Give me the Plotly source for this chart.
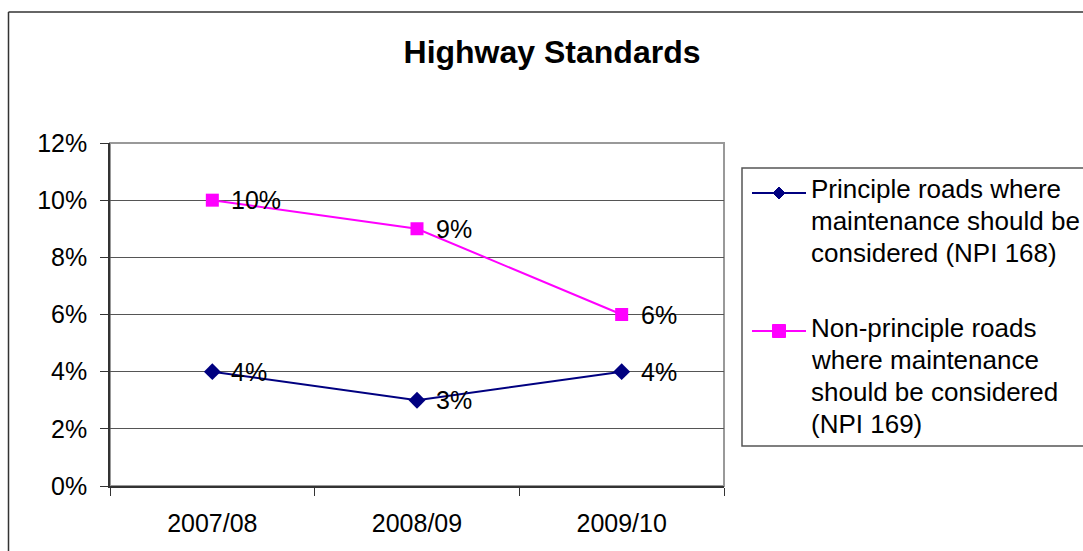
import plotly.graph_objects as go

categories = ["2007/08", "2008/09", "2009/10"]
principle = [0.04, 0.03, 0.04]
non_principle = [0.10, 0.09, 0.06]
series_names = [
    "Principle roads where<br>maintenance should be<br>considered (NPI 168)",
    "Non-principle roads<br>where maintenance<br>should be considered<br>(NPI 169)",
]
series_colors = ["#000080", "#FF00FF"]
y_ticks = [0, 0.02, 0.04, 0.06, 0.08, 0.10, 0.12]

FONT = "Arial, Liberation Sans, sans-serif"
W, H = 1083, 551
# plot area in page pixels
L, R, T, B = 110, 724, 143, 486

def px_x(x):
    return (x - L) / (R - L)

def px_y(y):
    return (B - y) / (B - T)

fig = go.Figure()
fig.add_trace(go.Scatter(
    x=categories, y=principle, name=series_names[0],
    mode="lines+markers",
    line=dict(color=series_colors[0], width=2),
    marker=dict(symbol="diamond", size=13, color=series_colors[0]),
    cliponaxis=False, showlegend=False,
))
fig.add_trace(go.Scatter(
    x=categories, y=non_principle, name=series_names[1],
    mode="lines+markers",
    line=dict(color=series_colors[1], width=2),
    marker=dict(symbol="square", size=13, color=series_colors[1]),
    cliponaxis=False, showlegend=False,
))

annotations = []
for series in (principle, non_principle):
    for c, v in zip(categories, series):
        annotations.append(dict(
            x=c, y=v, xref="x", yref="y", text=f"{v:.0%}", showarrow=False,
            xanchor="left", yanchor="middle", xshift=17,
            font=dict(size=25, family=FONT, color="black"),
        ))

shapes = [
    # plot area border (gray)
    dict(type="rect", xref="paper", yref="paper", x0=0, x1=1, y0=0, y1=1,
         line=dict(color="#999999", width=2), layer="below"),
    # outer chart border: top and left (right/bottom fall outside the view)
    dict(type="line", xref="paper", yref="paper",
         x0=px_x(8.5), x1=px_x(1100), y0=px_y(12), y1=px_y(12),
         line=dict(color="#333333", width=1.5)),
    dict(type="line", xref="paper", yref="paper",
         x0=px_x(8.5), x1=px_x(8.5), y0=px_y(12), y1=px_y(570),
         line=dict(color="#333333", width=1.5)),
    # legend box
    dict(type="rect", xref="paper", yref="paper",
         x0=px_x(742), x1=px_x(1100), y0=px_y(168), y1=px_y(446),
         line=dict(color="#555555", width=1.5), fillcolor="white", layer="below"),
]

# custom legend (symbol + multi-line text)
leg_sym_y = [193, 331]
leg_text_y0 = [189, 328]
line_step = 32
for i, (name, color) in enumerate(zip(series_names, series_colors)):
    sy = leg_sym_y[i]
    shapes.append(dict(type="line", xref="paper", yref="paper",
                       x0=px_x(752), x1=px_x(806), y0=px_y(sy), y1=px_y(sy),
                       line=dict(color=color, width=2)))
    cx = 779
    if i == 0:
        d = 6
        path = (f"M {px_x(cx - d)},{px_y(sy)} L {px_x(cx)},{px_y(sy - d)} "
                f"L {px_x(cx + d)},{px_y(sy)} L {px_x(cx)},{px_y(sy + d)} Z")
        shapes.append(dict(type="path", xref="paper", yref="paper", path=path,
                           fillcolor=color, line=dict(color=color, width=1)))
    else:
        d = 6.5
        shapes.append(dict(type="rect", xref="paper", yref="paper",
                           x0=px_x(cx - d), x1=px_x(cx + d),
                           y0=px_y(sy + d), y1=px_y(sy - d),
                           fillcolor=color, line=dict(color=color, width=1)))
    for j, part in enumerate(name.split("<br>")):
        annotations.append(dict(
            x=px_x(809), y=px_y(leg_text_y0[i] + j * line_step),
            xref="paper", yref="paper", text=part, showarrow=False,
            xanchor="left", yanchor="middle",
            font=dict(size=26, family=FONT, color="black"),
        ))

fig.update_layout(
    width=W, height=H,
    margin=dict(l=L, r=W - R, t=T, b=H - B, pad=0),
    paper_bgcolor="white", plot_bgcolor="white",
    font=dict(family=FONT, size=25, color="black"),
    title=dict(text="<b>Highway Standards</b>", x=552 / W, xanchor="center",
               y=1 - 52 / H, yanchor="middle",
               font=dict(size=32, family=FONT, color="black")),
    showlegend=False,
    hovermode=False,
    shapes=shapes,
    annotations=annotations,
    xaxis=dict(
        type="category", range=[-0.5, 2.5], tickson="boundaries",
        ticks="outside", ticklen=8, tickcolor="#333333",
        showline=True, linecolor="#333333", linewidth=1.5,
        showgrid=False, tickfont=dict(size=25), ticklabelstandoff=14,
    ),
    yaxis=dict(
        range=[0, 0.12], tickvals=y_ticks, tickformat=".0%",
        ticks="outside", ticklen=8, tickcolor="#333333",
        showline=True, linecolor="#333333", linewidth=1.5,
        showgrid=True, gridcolor="#555555", gridwidth=1,
        zeroline=False, tickfont=dict(size=25), ticklabelstandoff=8,
    ),
)

fig.write_html(
    "out.html",
    config={"displayModeBar": False},
    post_script="document.body.style.margin='0';document.body.style.overflow='hidden';",
)
